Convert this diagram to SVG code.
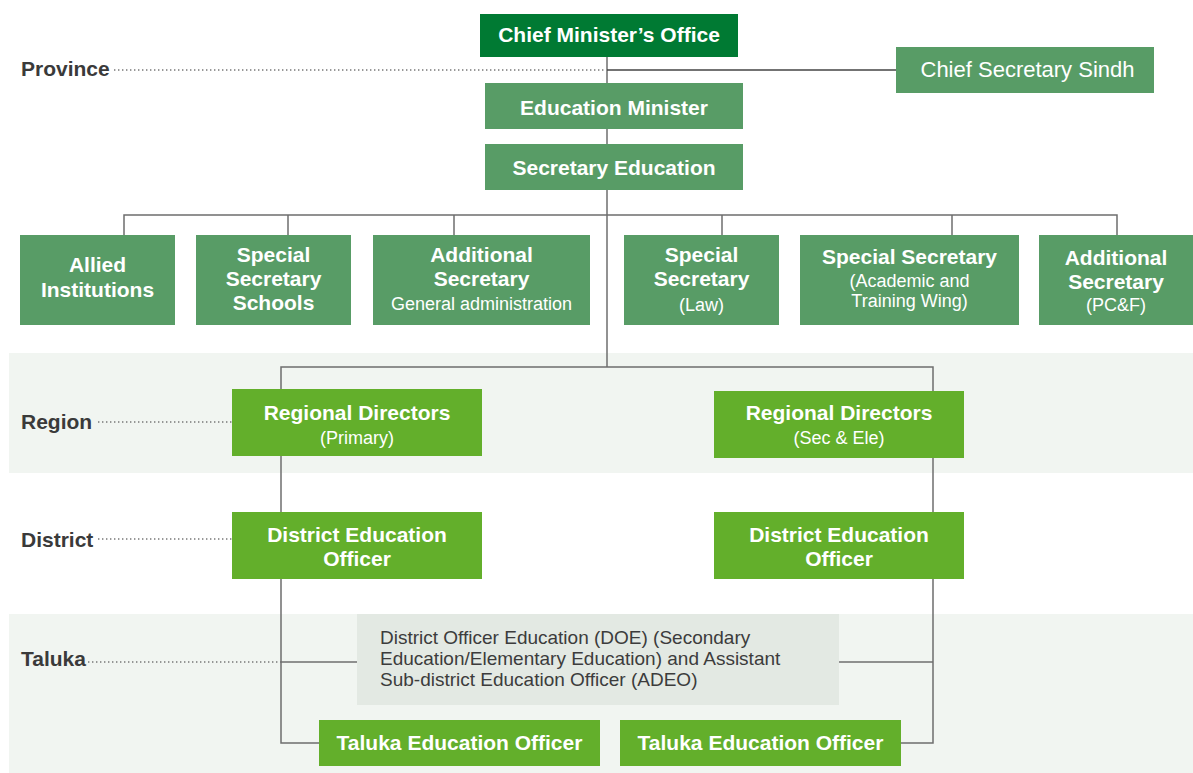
<svg xmlns="http://www.w3.org/2000/svg" width="1193" height="773" viewBox="0 0 1193 773">
<style>
  text { font-family: "Liberation Sans", Arial, sans-serif; }
  .b { font-weight: bold; font-size: 21px; fill: #ffffff; text-anchor: middle; }
  .s { font-size: 18px; fill: #ffffff; text-anchor: middle; }
  .lbl { font-weight: bold; font-size: 21px; fill: #3a3a3a; }
  .gt { font-size: 19px; fill: #3c3c3c; }
  .dk { fill: #007a33; }
  .md { fill: #589c66; }
  .lt { fill: #63af2b; }
  .gy { fill: #e3e9e3; }
  .ln { fill: none; stroke: #6e6e6e; stroke-width: 1.5; }
  .dot { fill: none; stroke: #777777; stroke-width: 1.4; stroke-dasharray: 1.4 2.6; }
</style>
<rect x="0" y="0" width="1193" height="773" fill="#ffffff"/>
<g id="bands">
  <rect x="9" y="353" width="1184" height="120" fill="#f1f5f1"/>
  <rect x="9" y="614" width="1184" height="159" fill="#f1f5f1"/>
</g>
<g id="levels">
  <text class="lbl" x="21" y="75.5">Province</text>
  <text class="lbl" x="21" y="428.5">Region</text>
  <text class="lbl" x="21" y="546.5">District</text>
  <text class="lbl" x="21" y="665.5">Taluka</text>
  <line class="dot" x1="114" y1="70" x2="605" y2="70"/>
  <line class="dot" x1="98" y1="422" x2="232" y2="422"/>
  <line class="dot" x1="98" y1="539" x2="232" y2="539"/>
  <line class="dot" x1="88" y1="662" x2="281" y2="662"/>
</g>
<g id="connectors">
  <line class="ln" x1="607" y1="57" x2="607" y2="367"/>
  <line x1="607" y1="70" x2="896" y2="70" stroke="#444444" stroke-width="1.3"/>
  <polyline class="ln" points="124,235 124,215 1117,215 1117,235"/>
  <line class="ln" x1="288" y1="215" x2="288" y2="235"/>
  <line class="ln" x1="454" y1="215" x2="454" y2="235"/>
  <line class="ln" x1="722" y1="215" x2="722" y2="235"/>
  <line class="ln" x1="952" y1="215" x2="952" y2="235"/>
  <polyline class="ln" points="281,389 281,367 933,367 933,391"/>
  <line class="ln" x1="281" y1="456" x2="281" y2="512"/>
  <line class="ln" x1="933" y1="458" x2="933" y2="512"/>
  <polyline class="ln" points="281,579 281,743 319,743"/>
  <polyline class="ln" points="933,579 933,743 901,743"/>
  <line class="ln" x1="281" y1="662" x2="357" y2="662"/>
  <line class="ln" x1="839" y1="662" x2="933" y2="662"/>
</g>
<g id="cmo">
  <rect class="dk" x="480" y="14" width="258" height="43"/>
  <text class="b" x="609" y="41.5">Chief Minister’s Office</text>
</g>
<g id="chief-secretary">
  <rect class="md" x="896" y="47" width="258" height="46"/>
  <text x="1027.5" y="77" font-size="22" fill="#ffffff" text-anchor="middle">Chief Secretary Sindh</text>
</g>
<g id="education-minister">
  <rect class="md" x="485" y="83" width="258" height="46"/>
  <text class="b" x="614" y="114.5">Education Minister</text>
</g>
<g id="secretary-education">
  <rect class="md" x="485" y="144" width="258" height="46"/>
  <text class="b" x="614" y="174.5">Secretary Education</text>
</g>
<g id="allied">
  <rect class="md" x="20" y="235" width="155" height="90"/>
  <text class="b" x="97.5" y="272">Allied</text>
  <text class="b" x="97.5" y="297">Institutions</text>
</g>
<g id="ss-schools">
  <rect class="md" x="196" y="235" width="155" height="90"/>
  <text class="b" x="273.5" y="262">Special</text>
  <text class="b" x="273.5" y="286">Secretary</text>
  <text class="b" x="273.5" y="310">Schools</text>
</g>
<g id="as-general">
  <rect class="md" x="373" y="235" width="217" height="90"/>
  <text class="b" x="481.5" y="262">Additional</text>
  <text class="b" x="481.5" y="286">Secretary</text>
  <text class="s" x="481.5" y="310" font-size="18.5">General administration</text>
</g>
<g id="ss-law">
  <rect class="md" x="624" y="235" width="155" height="90"/>
  <text class="b" x="701.5" y="262">Special</text>
  <text class="b" x="701.5" y="286">Secretary</text>
  <text class="s" x="701.5" y="310.5">(Law)</text>
</g>
<g id="ss-academic">
  <rect class="md" x="800" y="235" width="219" height="90"/>
  <text class="b" x="909.5" y="263.5">Special Secretary</text>
  <text class="s" x="909.5" y="286.5">(Academic and</text>
  <text class="s" x="909.5" y="307">Training Wing)</text>
</g>
<g id="as-pcf">
  <rect class="md" x="1039" y="235" width="154" height="90"/>
  <text class="b" x="1116" y="264.5">Additional</text>
  <text class="b" x="1116" y="288.5">Secretary</text>
  <text class="s" x="1116" y="310.5">(PC&amp;F)</text>
</g>
<g id="rd-primary">
  <rect class="lt" x="232" y="389" width="250" height="67"/>
  <text class="b" x="357" y="419.5">Regional Directors</text>
  <text class="s" x="357" y="444">(Primary)</text>
</g>
<g id="rd-sec">
  <rect class="lt" x="714" y="391" width="250" height="67"/>
  <text class="b" x="839" y="419.5">Regional Directors</text>
  <text class="s" x="839" y="444">(Sec &amp; Ele)</text>
</g>
<g id="deo-left">
  <rect class="lt" x="232" y="512" width="250" height="67"/>
  <text class="b" x="357" y="541.5">District Education</text>
  <text class="b" x="357" y="565.5">Officer</text>
</g>
<g id="deo-right">
  <rect class="lt" x="714" y="512" width="250" height="67"/>
  <text class="b" x="839" y="541.5">District Education</text>
  <text class="b" x="839" y="565.5">Officer</text>
</g>
<g id="doe-adeo">
  <rect class="gy" x="357" y="614" width="482" height="91"/>
  <text class="gt" x="380" y="643.5">District Officer Education (DOE) (Secondary</text>
  <text class="gt" x="380" y="664.5">Education/Elementary Education) and Assistant</text>
  <text class="gt" x="380" y="685.5">Sub-district Education Officer (ADEO)</text>
</g>
<g id="teo-left">
  <rect class="lt" x="319" y="720" width="281" height="46"/>
  <text class="b" x="459.5" y="749.5">Taluka Education Officer</text>
</g>
<g id="teo-right">
  <rect class="lt" x="620" y="720" width="281" height="46"/>
  <text class="b" x="760.5" y="749.5">Taluka Education Officer</text>
</g>
</svg>
